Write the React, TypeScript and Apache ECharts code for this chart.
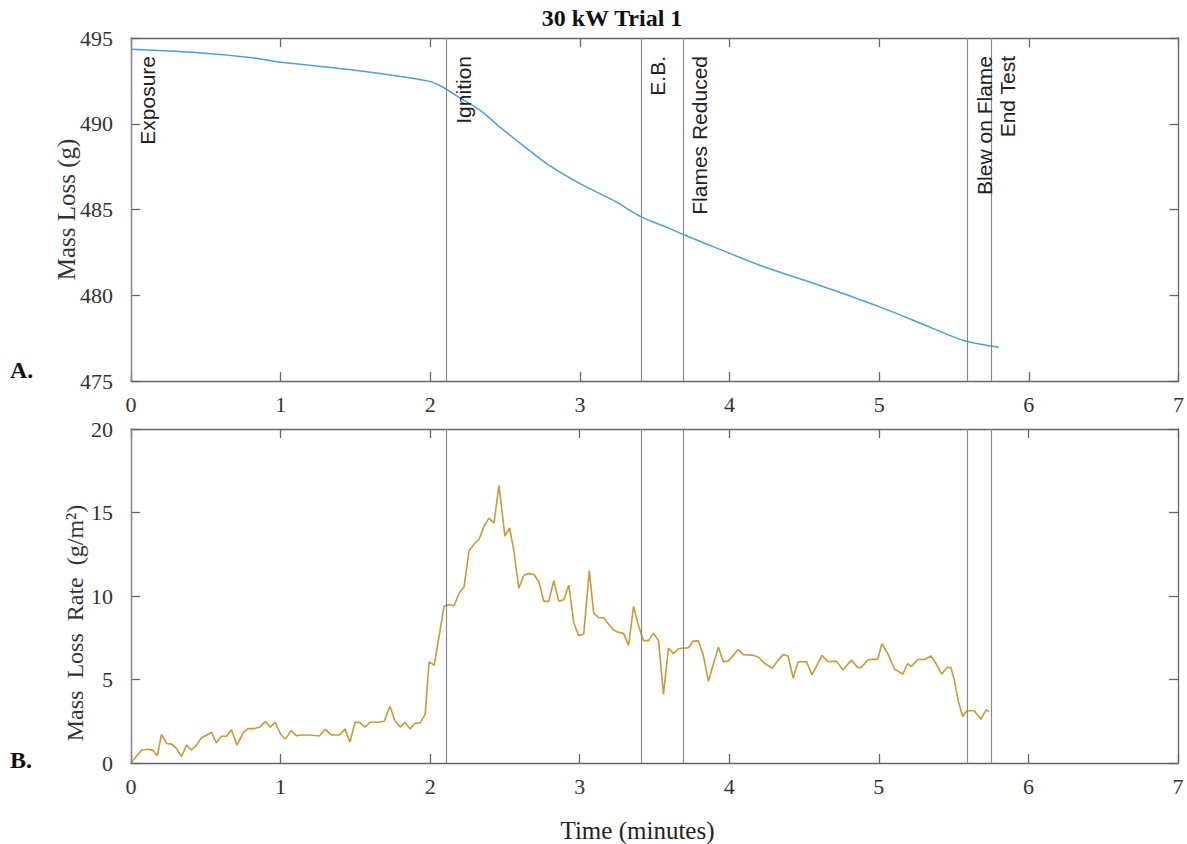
import React, { useEffect, useRef } from "react";
import * as echarts from "echarts";

// Panel A: cumulative mass (g) vs time (minutes)
const timeA = [0, 0.45, 0.81, 0.99, 1.48, 1.98, 2.07, 2.2, 2.34, 2.47, 2.61, 2.79, 3.01, 3.23, 3.41, 3.59, 3.69, 3.91, 4.22, 4.49, 4.81, 5.08, 5.35, 5.57, 5.8];
const massA = [494.34, 494.14, 493.85, 493.6, 493.13, 492.5, 492.2, 491.5, 490.74, 489.77, 488.8, 487.6, 486.46, 485.5, 484.57, 483.93, 483.54, 482.76, 481.69, 480.9, 479.94, 479.06, 478.1, 477.35, 476.97];

// Panel B: mass loss rate (g/m²) vs time (minutes)
const timeB = [
  0.004, 0.071, 0.116, 0.149, 0.176, 0.204, 0.238, 0.271, 0.304, 0.338, 0.371, 0.404, 0.438, 0.471, 0.504, 0.538, 0.571, 0.604, 0.638, 0.671,
  0.709, 0.749, 0.782, 0.827, 0.86, 0.898, 0.931, 0.964, 1.0, 1.033, 1.071, 1.104, 1.149, 1.193, 1.26, 1.298, 1.338, 1.393, 1.431, 1.464,
  1.498, 1.531, 1.564, 1.598, 1.649, 1.693, 1.731, 1.764, 1.8, 1.831, 1.867, 1.898, 1.933, 1.967, 1.993, 2.027, 2.06, 2.093, 2.127, 2.16,
  2.193, 2.227, 2.26, 2.293, 2.327, 2.36, 2.393, 2.427, 2.46, 2.5, 2.531, 2.56, 2.593, 2.627, 2.66, 2.693, 2.727, 2.76, 2.793, 2.827,
  2.86, 2.893, 2.927, 2.96, 2.993, 3.027, 3.064, 3.093, 3.127, 3.16, 3.193, 3.227, 3.26, 3.293, 3.327, 3.36, 3.393, 3.427, 3.46, 3.493,
  3.527, 3.56, 3.593, 3.627, 3.66, 3.693, 3.727, 3.76, 3.793, 3.827, 3.86, 3.893, 3.927, 3.96, 3.993, 4.06, 4.093, 4.16, 4.193, 4.238,
  4.287, 4.327, 4.36, 4.393, 4.427, 4.46, 4.516, 4.553, 4.62, 4.66, 4.716, 4.76, 4.816, 4.86, 4.882, 4.927, 4.993, 5.02, 5.06, 5.104,
  5.16, 5.193, 5.216, 5.26, 5.304, 5.349, 5.382, 5.42, 5.456, 5.482, 5.504, 5.531, 5.56, 5.589, 5.638, 5.682, 5.716, 5.738,
];
const rateB = [
  0.04, 0.78, 0.82, 0.74, 0.43, 1.72, 1.17, 1.13, 0.88, 0.39, 1.07, 0.78, 1.07, 1.51, 1.66, 1.84, 1.21, 1.6, 1.6, 1.99,
  1.07, 1.8, 2.06, 2.06, 2.15, 2.48, 2.15, 2.44, 1.72, 1.43, 1.95, 1.64, 1.68, 1.68, 1.62, 2.01, 1.68, 1.68, 2.03, 1.25,
  2.46, 2.42, 2.15, 2.44, 2.44, 2.5, 3.4, 2.54, 2.15, 2.42, 2.03, 2.38, 2.4, 2.93, 6.06, 5.86, 7.62, 9.38, 9.48, 9.42,
  10.16, 10.56, 12.71, 13.1, 13.4, 14.17, 14.66, 14.37, 16.62, 13.59, 14.08, 12.71, 10.46, 11.24, 11.34, 11.3, 10.85, 9.68, 9.68, 10.91,
  9.68, 9.77, 10.65, 8.41, 7.62, 7.72, 11.53, 8.99, 8.7, 8.7, 8.31, 7.96, 7.82, 7.76, 7.04, 9.38, 8.21, 7.33, 7.33, 7.76,
  7.33, 4.11, 6.88, 6.55, 6.84, 6.88, 6.9, 7.3, 7.31, 6.45, 4.89, 5.9, 6.94, 6.06, 6.1, 6.8, 6.49, 6.45, 6.35, 5.96,
  5.67, 6.16, 6.49, 6.41, 5.08, 6.06, 6.06, 5.28, 6.45, 6.06, 6.1, 5.57, 6.16, 5.71, 5.71, 6.18, 6.22, 7.14, 6.55, 5.63,
  5.32, 5.96, 5.77, 6.2, 6.2, 6.41, 5.96, 5.32, 5.73, 5.71, 4.99, 3.72, 2.78, 3.13, 3.13, 2.62, 3.17, 3.09,
];

// Event markers (minutes)
const eventNames = ["Exposure", "Ignition", "E.B.", "Flames Reduced", "Blew on Flame", "End Test"];
const eventTimes = [0, 2.113, 3.413, 3.693, 5.593, 5.747];

const xTicks = { min: 0, max: 7, interval: 1 };
const yTicksA = { min: 475, max: 495, interval: 5 };
const yTicksB = { min: 0, max: 20, interval: 5 };

const SERIF = "'Liberation Serif', 'Times New Roman', serif";
const SANS = "'Liberation Sans', Arial, sans-serif";
const AXIS = "#666";

export default function App() {
  const ref = useRef<HTMLDivElement>(null);
  useEffect(() => {
    if (!ref.current) return;
    const chart = echarts.init(ref.current, undefined, { renderer: "svg" });

    const axisLine = () => ({ show: true, onZero: false, lineStyle: { color: AXIS, width: 1.3 } });
    const tick = () => ({ show: true, inside: true, length: 9, lineStyle: { color: AXIS, width: 1.3 } });
    const label = () => ({ fontFamily: SERIF, fontSize: 22, color: "#333" });

    const mkX = (gi: number, pos: string, showLabel: boolean) => ({
      type: "value",
      gridIndex: gi,
      position: pos,
      ...xTicks,
      axisLine: axisLine(),
      axisTick: tick(),
      splitLine: { show: false },
      axisLabel: { show: showLabel, margin: 12, ...label() },
    });
    const mkY = (gi: number, pos: string, showLabel: boolean, t: any) => ({
      type: "value",
      gridIndex: gi,
      position: pos,
      ...t,
      axisLine: axisLine(),
      axisTick: tick(),
      splitLine: { show: false },
      axisLabel: { show: showLabel, margin: 18, ...label() },
    });

    const markLineFor = (showLabels: boolean) => ({
      silent: true,
      symbol: ["none", "none"],
      lineStyle: { color: "#8a8a8a", width: 1.2, type: "solid" },
      label: {
        show: showLabels,
        position: "insideEndBottom",
        distance: [18, 6],
        fontFamily: SANS,
        fontSize: 21,
        color: "#222",
        formatter: (p: any) => p.name,
      },
      data: eventTimes.map((t, i) => ({ name: eventNames[i], xAxis: t })),
    });

    chart.setOption({
      animation: false,
      backgroundColor: "#fff",
      title: {
        text: "30 kW Trial 1",
        left: 607,
        top: 1,
        textAlign: "center",
        textStyle: { fontFamily: SERIF, fontSize: 24, fontWeight: "bold", color: "#111" },
      },
      grid: [
        { left: 131, top: 38, width: 1050, height: 343 },
        { left: 131, top: 429, width: 1047, height: 341 },
      ],
      xAxis: [
        mkX(0, "bottom", true),
        mkX(0, "top", false),
        {
          ...mkX(1, "bottom", true),
          name: "Time (minutes)",
          nameLocation: "middle",
          nameGap: 55,
          nameTextStyle: { fontFamily: SERIF, fontSize: 25, color: "#222", padding: [0, 34, 0, 0] },
        },
        mkX(1, "top", false),
      ],
      yAxis: [
        {
          ...mkY(0, "left", true, yTicksA),
          name: "Mass Loss (g)",
          nameLocation: "middle",
          nameRotate: 90,
          nameGap: 52,
          nameMoveOverlap: false,
          nameTextStyle: { fontFamily: SERIF, fontSize: 25, color: "#333" },
        },
        mkY(0, "right", false, yTicksA),
        {
          ...mkY(1, "left", true, yTicksB),
          name: "Mass  Loss  Rate  (g/m²)",
          nameLocation: "middle",
          nameRotate: 90,
          nameGap: 44,
          nameMoveOverlap: false,
          nameTextStyle: { fontFamily: SERIF, fontSize: 24, color: "#333", padding: [0, 54, 0, 0] },
        },
        mkY(1, "right", false, yTicksB),
      ],
      series: [
        {
          type: "line",
          xAxisIndex: 0,
          yAxisIndex: 0,
          data: timeA.map((t, i) => [t, massA[i]]),
          showSymbol: false,
          smooth: 0.3,
          lineStyle: { color: "#4f9fd3", width: 1.5 },
          markLine: markLineFor(true),
          z: 3,
        },
        {
          type: "line",
          xAxisIndex: 2,
          yAxisIndex: 2,
          data: timeB.map((t, i) => [t, rateB[i]]),
          showSymbol: false,
          lineStyle: { color: "#c79a3a", width: 1.6 },
          markLine: markLineFor(false),
          z: 3,
        },
      ],
      graphic: [
        { type: "text", left: 10, top: 358, style: { text: "A.", font: `bold 24px ${SERIF}`, fill: "#111" } },
        { type: "text", left: 10, top: 748, style: { text: "B.", font: `bold 24px ${SERIF}`, fill: "#111" } },
      ],
    });
    return () => chart.dispose();
  }, []);
  return <div ref={ref} style={{ position: "fixed", left: 0, top: 0, width: 1187, height: 844 }} />;
}
